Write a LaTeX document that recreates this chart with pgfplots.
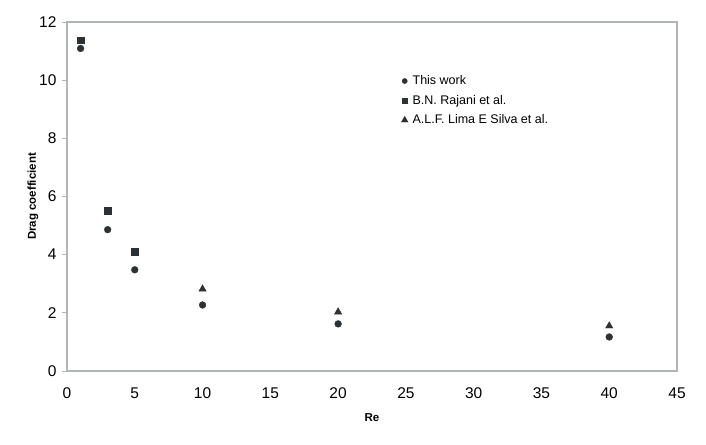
\documentclass[border=0pt]{standalone}
\usepackage{fontspec}
\setmainfont{Liberation Sans}
\usepackage{pgfplots}
\pgfplotsset{compat=1.18}
\definecolor{mk}{HTML}{2E3133}
\definecolor{axgray}{HTML}{B0B6B6}
\begin{document}
\begin{tikzpicture}
\begin{axis}[
  name=ax, scale only axis, width=610pt, height=349pt,
  xmin=0, xmax=45, ymin=0, ymax=12,
  xtick={0,5,...,45}, ytick={0,2,...,12},
  axis line style={draw=axgray, line width=1.2pt},
  tick align=outside, major tick length=5pt,
  ytick pos=left,
  ytick style={axgray, line width=0.8pt},
  xtick style={draw=none},
  tick label style={font=\fontsize{15.5}{18}\selectfont, /pgf/number format/assume math mode=true},
  xticklabel style={yshift=-8pt},
  yticklabel style={xshift=-2pt},
  xlabel={Re}, ylabel={Drag coefficient},
  every axis x label/.style={at={(rel axis cs:0.5,0)}, anchor=center, yshift=-47pt,
    font=\fontsize{11.5}{14}\selectfont\bfseries},
  every axis y label/.style={at={(rel axis cs:-0.0557,0.5)}, rotate=90, anchor=center,
    font=\fontsize{11.5}{14}\selectfont\bfseries},
  legend style={draw=none, fill=none, at={(rel axis cs:0.543,0.858)}, anchor=north west,
    font=\fontsize{12.5}{15}\selectfont, row sep=5pt, cells={anchor=west}},
  legend image code/.code={\draw[#1, only marks] plot coordinates {(0cm,0cm)}; \path (0.2cm,0cm);},
]
\addplot[only marks, mark=*, mark size=3.4pt, draw=mk, fill=mk,
  legend image post style={mark size=2.6pt}] coordinates {
  (1,11.09) (3,4.86) (5,3.48) (10,2.27) (20,1.62) (40,1.17)};
\addplot[only marks, mark=square*, mark size=3.3pt, draw=mk, fill=mk,
  legend image post style={mark size=2.8pt}] coordinates {
  (1,11.37) (3,5.51) (5,4.10)};
\addplot[only marks, mark=triangle*, mark size=4.2pt, draw=mk, fill=mk,
  legend image post style={mark size=3.8pt}] coordinates {
  (10,2.82) (20,2.03) (40,1.55)};
\legend{This work, B.N. Rajani et al., A.L.F. Lima E Silva et al.}
\end{axis}
\path ([shift={(-67pt,-73pt)}]ax.south west) rectangle ([shift={(639pt,371pt)}]ax.south west);
\end{tikzpicture}
\end{document}
